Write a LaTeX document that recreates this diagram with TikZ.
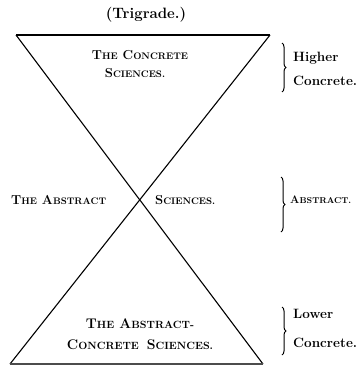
\documentclass[tikz,border=0pt]{standalone}
\usetikzlibrary{decorations.pathreplacing}
\newcommand\smc{\fontsize{9.5}{10}\selectfont}
\newcommand\bsmc{\fontsize{10.5}{11}\selectfont}
\newcommand\tinyc{\fontsize{8.5}{9}\selectfont}
\tikzset{
  lbl/.style={inner sep=0pt, font=\bfseries\fontsize{13}{14}\selectfont},
  blbl/.style={inner sep=0pt, font=\bfseries\fontsize{14}{15}\selectfont},
  side/.style={inner sep=0pt, anchor=west, font=\bfseries\fontsize{13.5}{14}\selectfont},
  edge/.style={line width=1.1pt},
  grp/.style={line width=1pt, decorate, decoration={brace, amplitude=4pt}}
}
\begin{document}
\begin{tikzpicture}[x=1pt,y=-1pt]
\useasboundingbox (0,0) rectangle (363,367);
% corners
\coordinate (tl) at (16,35);
\coordinate (tr) at (270,35);
\coordinate (bl) at (10,364);
\coordinate (br) at (263,364);
\draw[edge] (tl) -- (tr);
\draw[edge] (tl) -- (br);
\draw[edge] (tr) -- (bl);
\draw[edge, black!70] (bl) -- (br);
% title
\node[lbl, font=\bfseries\fontsize{15}{16}\selectfont] (title) at (146,15) {(Trigrade.)};
% top
\node[lbl] (c1) at (140,55) {T{\smc HE} C{\smc ONCRETE}};
\node[lbl] (c2) at (135,73) {S{\smc CIENCES.}};
% middle
\node[lbl, anchor=west] (a1) at (11,200) {T{\smc HE} A{\smc BSTRACT}};
\node[lbl, anchor=west] (a2) at (155,200) {S{\smc CIENCES.}};
% bottom
\node[blbl] (b1) at (140,324) {T{\bsmc HE} A{\bsmc BSTRACT-}};
\node[blbl] (b2) at (140,345) {C{\bsmc ONCRETE}\hspace{8pt}S{\bsmc CIENCES.}};
% right side
\coordinate (h1) at (282,43);
\coordinate (h2) at (282,92);
\draw[grp] (h1) -- (h2);
\node[side] (hi) at (293,58) {Higher};
\node[side] (hc) at (293,81) {Concrete.};
\coordinate (m1) at (281,177);
\coordinate (m2) at (281,232);
\draw[grp] (m1) -- (m2);
\node[side, font=\bfseries\fontsize{11}{12}\selectfont] (ab) at (290,200) {A{\tinyc BSTRACT.}};
\coordinate (l1) at (282,307);
\coordinate (l2) at (282,355);
\draw[grp] (l1) -- (l2);
\node[side] (lo) at (293,314) {Lower};
\node[side] (lc) at (293,343) {Concrete.};
\end{tikzpicture}
\end{document}
